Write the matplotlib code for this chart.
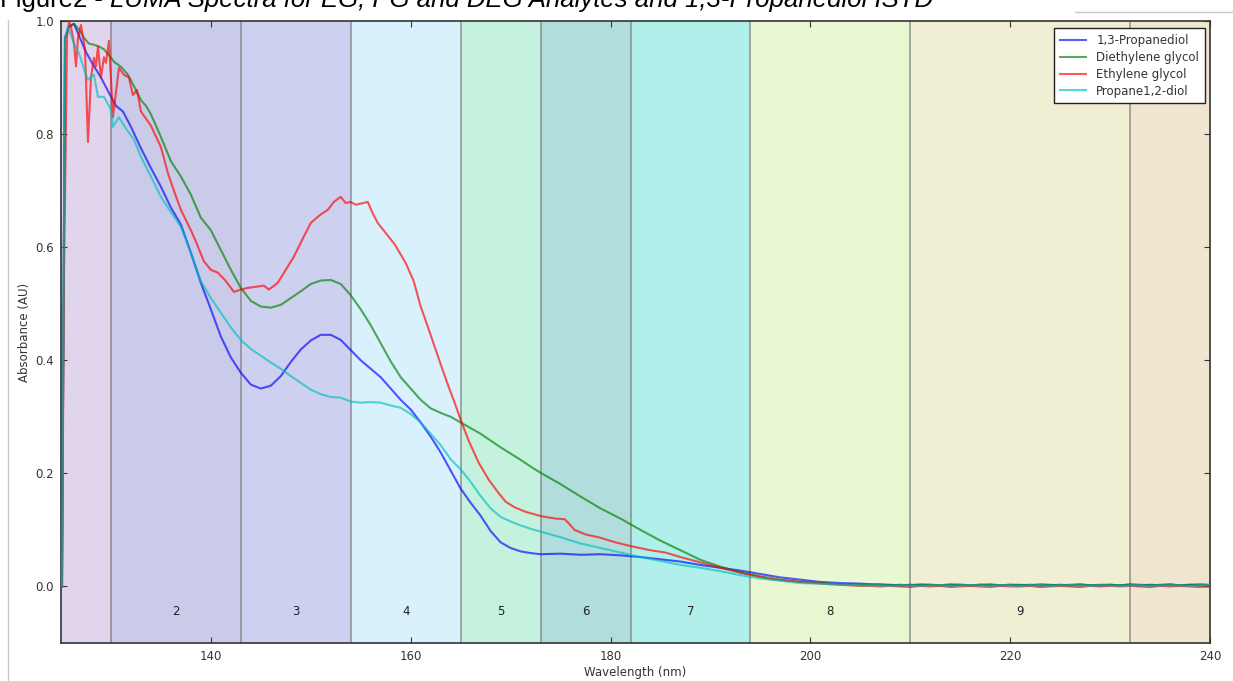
import matplotlib
matplotlib.use("Agg")
import matplotlib.pyplot as plt
from matplotlib.lines import Line2D

# ---------------- data ----------------
series_names = ["1,3-Propanediol", "Diethylene glycol", "Ethylene glycol", "Propane1,2-diol"]

blue_wl = [125.1, 125.4, 125.8, 126.3, 126.9, 127.5, 128.3, 129.0, 129.8, 130.5, 131.2, 132.0, 133.0,
           134.0, 135.0, 136.0, 137.0, 138.0, 139.0, 140.0, 141.0, 142.0, 143.0, 144.0, 145.0, 146.0,
           147.0, 148.0, 149.0, 150.0, 151.0, 152.0, 153.0, 154.0, 155.0, 156.0, 157.0, 158.0, 159.0,
           160.0, 161.0, 162.0, 163.0, 164.0, 165.0, 166.0, 167.0, 168.0, 169.0, 170.0, 171.0, 172.0,
           173.0, 175.0, 177.0, 179.0, 181.0, 183.0, 185.0, 187.0, 189.0, 191.0, 193.0, 195.0, 197.0,
           199.0, 201.0, 203.0, 205.0]
blue_abs = [0.0, 0.97, 0.99, 0.995, 0.97, 0.945, 0.92, 0.90, 0.873, 0.85, 0.84, 0.813, 0.775,
            0.74, 0.707, 0.67, 0.64, 0.59, 0.537, 0.49, 0.442, 0.405, 0.378, 0.357, 0.350, 0.355,
            0.372, 0.397, 0.419, 0.435, 0.445, 0.445, 0.436, 0.418, 0.400, 0.385, 0.370, 0.350, 0.330,
            0.313, 0.290, 0.265, 0.237, 0.205, 0.173, 0.148, 0.125, 0.098, 0.078, 0.068, 0.062, 0.059,
            0.057, 0.058, 0.056, 0.057, 0.055, 0.052, 0.048, 0.044, 0.038, 0.033, 0.028, 0.022, 0.016,
            0.012, 0.008, 0.006, 0.005]

green_wl = [125.1, 125.4, 125.8, 126.3, 126.8, 127.3, 127.8, 128.3, 128.8, 129.3, 129.8, 130.3, 131.0,
            131.7, 132.3, 133.0, 133.5, 134.0, 135.0, 136.0, 137.0, 138.0, 139.0, 140.0, 141.0, 142.0,
            143.0, 144.0, 145.0, 146.0, 147.0, 148.0, 149.0, 150.0, 151.0, 152.0, 153.0, 154.0, 155.0,
            156.0, 157.0, 158.0, 159.0, 160.0, 161.0, 162.0, 163.0, 164.0, 165.0, 166.0, 167.0, 168.0,
            169.0, 170.0, 171.0, 172.0, 173.0, 175.0, 177.0, 179.0, 181.0, 183.0, 185.0, 187.0, 189.0,
            191.0, 193.0, 195.0, 197.0, 199.0, 201.0, 203.0, 205.0]
green_abs = [0.0, 0.97, 0.99, 0.995, 0.985, 0.97, 0.96, 0.958, 0.955, 0.95, 0.94, 0.928, 0.919,
             0.905, 0.885, 0.860, 0.850, 0.835, 0.795, 0.752, 0.725, 0.693, 0.652, 0.630, 0.595, 0.560,
             0.528, 0.505, 0.495, 0.493, 0.498, 0.510, 0.522, 0.535, 0.541, 0.542, 0.535, 0.515, 0.490,
             0.462, 0.430, 0.398, 0.370, 0.350, 0.330, 0.315, 0.307, 0.300, 0.290, 0.280, 0.270, 0.258,
             0.246, 0.235, 0.224, 0.212, 0.201, 0.181, 0.159, 0.138, 0.120, 0.100, 0.081, 0.064, 0.047,
             0.035, 0.025, 0.018, 0.012, 0.008, 0.006, 0.004, 0.003]

red_wl = [125.1, 125.3, 125.6, 125.8, 126.0, 126.3, 126.5, 126.7, 127.0, 127.4, 127.7, 128.0, 128.3,
          128.5, 128.7, 129.0, 129.3, 129.5, 129.8, 130.2, 130.8, 131.3, 131.8, 132.2, 132.6, 133.0,
          134.0, 135.0, 135.7, 136.3, 137.0, 138.0, 138.5, 139.3, 140.0, 140.7, 141.5, 142.3, 143.0,
          143.7, 144.5, 145.3, 145.8, 146.7, 147.5, 148.3, 149.2, 150.0, 151.0, 151.7, 152.3, 153.0,
          153.5, 154.0, 154.5, 155.0, 155.7, 156.2, 156.7, 157.5, 158.4, 159.5, 160.3, 161.0, 161.7,
          162.4, 163.1, 163.8, 164.5, 165.1, 165.8, 166.8, 167.8, 168.8, 169.5, 170.4, 171.5, 173.1,
          174.5, 175.4, 175.8, 176.4, 177.5, 178.8, 180.5, 182.1, 184.0, 185.5, 187.0, 188.9, 191.0,
          193.8, 196.0, 199.0, 202.0, 205.0]
red_abs = [0.0, 0.55, 0.97, 1.0, 0.99, 0.96, 0.92, 0.97, 0.993, 0.95, 0.786, 0.90, 0.935,
           0.92, 0.955, 0.90, 0.936, 0.926, 0.965, 0.83, 0.917, 0.905, 0.90, 0.869, 0.878, 0.84,
           0.815, 0.777, 0.731, 0.700, 0.666, 0.630, 0.610, 0.575, 0.560, 0.555, 0.540, 0.521, 0.525,
           0.528, 0.530, 0.532, 0.525, 0.537, 0.560, 0.583, 0.615, 0.643, 0.658, 0.666, 0.680, 0.689,
           0.678, 0.680, 0.675, 0.677, 0.680, 0.660, 0.643, 0.625, 0.605, 0.572, 0.540, 0.495, 0.460,
           0.424, 0.388, 0.353, 0.320, 0.290, 0.258, 0.219, 0.189, 0.165, 0.150, 0.140, 0.132, 0.124,
           0.120, 0.119, 0.112, 0.100, 0.092, 0.087, 0.078, 0.071, 0.064, 0.060, 0.052, 0.043, 0.033,
           0.021, 0.013, 0.008, 0.004, 0.001]

cyan_wl = [125.1, 125.4, 125.7, 126.0, 126.4, 126.8, 127.3, 127.7, 128.3, 128.7, 129.3, 130.0, 130.2,
           130.8, 131.5, 132.3, 133.0, 134.0, 135.0, 136.0, 137.0, 138.0, 139.0, 140.0, 141.0, 142.0,
           143.0, 144.0, 145.0, 146.0, 147.0, 148.0, 149.0, 150.0, 151.0, 152.0, 153.0, 154.0, 155.0,
           156.0, 157.0, 158.0, 159.0, 160.0, 161.0, 162.0, 163.0, 164.0, 165.0, 166.0, 167.0, 168.0,
           169.0, 170.0, 171.0, 172.0, 173.0, 175.0, 177.0, 179.0, 181.0, 183.0, 185.0, 187.0, 189.0,
           191.0, 193.0, 195.0, 197.0, 199.0, 202.0, 205.0]
cyan_abs = [0.0, 0.97, 0.99, 0.975, 0.955, 0.943, 0.915, 0.896, 0.905, 0.866, 0.866, 0.843, 0.813,
            0.830, 0.810, 0.790, 0.760, 0.725, 0.689, 0.662, 0.636, 0.590, 0.540, 0.510, 0.484, 0.458,
            0.436, 0.420, 0.408, 0.396, 0.385, 0.372, 0.360, 0.348, 0.340, 0.335, 0.334, 0.327, 0.325,
            0.326, 0.325, 0.320, 0.316, 0.305, 0.290, 0.270, 0.250, 0.225, 0.207, 0.185, 0.160, 0.138,
            0.123, 0.115, 0.108, 0.102, 0.097, 0.087, 0.076, 0.068, 0.060, 0.052, 0.045, 0.038, 0.033,
            0.027, 0.020, 0.014, 0.010, 0.006, 0.004, 0.002]

tail_wl = [206, 207, 208, 209, 210, 211, 212, 213, 214, 215, 216, 217, 218, 219, 220, 221, 222, 223,
           224, 225, 226, 227, 228, 229, 230, 231, 232, 233, 234, 235, 236, 237, 238, 239, 240]
blue_tail = [0.004, 0.003, 0.003, 0.002, 0.003, 0.002, 0.003, 0.002, 0.002, 0.003, 0.002, 0.003,
             0.002, 0.002, 0.003, 0.002, 0.003, 0.002, 0.002, 0.003, 0.002, 0.003, 0.002, 0.002,
             0.003, 0.002, 0.003, 0.002, 0.003, 0.002, 0.003, 0.002, 0.003, 0.002, 0.002]
green_tail = [0.003, 0.004, 0.002, 0.003, 0.002, 0.004, 0.003, 0.002, 0.004, 0.003, 0.002, 0.003,
              0.004, 0.002, 0.003, 0.003, 0.002, 0.004, 0.003, 0.002, 0.003, 0.004, 0.002, 0.003,
              0.003, 0.002, 0.004, 0.003, 0.002, 0.003, 0.004, 0.002, 0.003, 0.004, 0.003]
red_tail = [0.001, 0.000, 0.001, 0.000, -0.001, 0.001, 0.000, 0.001, -0.001, 0.000, 0.001, 0.000,
            -0.001, 0.001, 0.000, 0.000, 0.001, -0.001, 0.000, 0.001, 0.000, -0.001, 0.001, 0.000,
            0.001, 0.000, 0.001, 0.000, -0.001, 0.001, 0.000, 0.001, 0.000, -0.001, 0.000]
cyan_tail = [0.002, 0.002, 0.001, 0.002, 0.002, 0.001, 0.002, 0.002, 0.001, 0.002, 0.002, 0.002,
             0.001, 0.002, 0.002, 0.001, 0.002, 0.002, 0.001, 0.002, 0.002, 0.002, 0.001, 0.002,
             0.002, 0.001, 0.002, 0.002, 0.001, 0.002, 0.002, 0.002, 0.001, 0.002, 0.002]

# spectral regions (boundaries in nm) and labels
region_edges = [125, 130, 143, 154, 165, 173, 182, 194, 210, 232, 240]
region_labels = ["", "2", "3", "4", "5", "6", "7", "8", "9", ""]
region_colors = ["#e0d5ec", "#c9cbe9", "#ced0ef", "#d9f1fc", "#c5f2df",
                 "#b1dedd", "#b1efea", "#e7f8d2", "#f0eed3", "#f0e5ce"]

x_ticks = [140, 160, 180, 200, 220, 240]
y_ticks = [0.0, 0.2, 0.4, 0.6, 0.8, 1.0]

title_a = "Figure2 - "
title_b = "LUMA Spectra for EG, PG and DEG Analytes and 1,3-Propanediol ISTD"

# ---------------- figure ----------------
W, H = 1233, 681
fig = plt.figure(figsize=(W / 100, H / 100), dpi=100)
ax = fig.add_axes([61 / W, 1 - 643 / H, (1210 - 61) / W, (643 - 21) / H])

for i in range(len(region_colors)):
    ax.axvspan(region_edges[i], region_edges[i + 1], color=region_colors[i], lw=0, zorder=0)
    if region_labels[i]:
        ax.text((region_edges[i] + region_edges[i + 1]) / 2, -0.045, region_labels[i],
                ha="center", va="center", fontsize=8.5, color="#222222", zorder=1)
for e in region_edges[1:-1]:
    ax.axvline(e, color="#7a7a7a", lw=1.1, alpha=0.8, zorder=1)

line_colors = ["#0000ff", "#007f00", "#ff0000", "#00bfbf"]
all_wl = [blue_wl + tail_wl, green_wl + tail_wl, red_wl + tail_wl, cyan_wl + tail_wl]
all_abs = [blue_abs + blue_tail, green_abs + green_tail, red_abs + red_tail, cyan_abs + cyan_tail]
for wl, ab, c, name in zip(all_wl, all_abs, line_colors, series_names):
    ax.plot(wl, ab, color=c, alpha=0.65, lw=1.5, label=name, zorder=3)

ax.set_xlim(125, 240)
ax.set_ylim(-0.1, 1.0)
ax.set_xticks(x_ticks)
ax.set_yticks(y_ticks)
ax.set_yticklabels([f"{v:.1f}" for v in y_ticks])
ax.tick_params(direction="in", top=True, right=True, length=4, width=0.8,
               labelsize=8.5, colors="#333333", pad=5)
for s in ax.spines.values():
    s.set_color("#333333")
    s.set_linewidth(1.2)
ax.set_xlabel("Wavelength (nm)", fontsize=8.5, color="#333333", labelpad=2)
ax.set_ylabel("Absorbance (AU)", fontsize=8.5, color="#333333", labelpad=3)

leg = ax.legend(loc="upper right", fontsize=8.5, frameon=True, fancybox=False,
                handlelength=2.2, borderpad=0.5, labelspacing=0.33, handletextpad=0.9,
                borderaxespad=0.0, bbox_to_anchor=(1 - 5 / 1149, 1 - 7 / 622))
leg.get_frame().set_edgecolor("#222222")
leg.get_frame().set_linewidth(1.0)
leg.get_frame().set_facecolor("white")
leg.get_frame().set_alpha(1.0)
for t in leg.get_texts():
    t.set_color("#333333")

# page decorations from the document screenshot
fig.add_artist(Line2D([8 / W, 8 / W], [0, 1 - 20 / H], color="#c8c8c8", lw=1))
fig.add_artist(Line2D([1075 / W, 1.0], [1 - 12 / H, 1 - 12 / H], color="#c8c8c8", lw=1))

# title (cut off at top of image, as in the document screenshot)
ty = 1 - 6.5 / H
t1 = fig.text(0.0, ty, title_a, fontsize=18.5, family="Liberation Sans", va="baseline", ha="left")
fig.canvas.draw()
bb = t1.get_window_extent(renderer=fig.canvas.get_renderer())
fig.text(bb.x1 / W, ty, title_b, fontsize=18.5, family="Liberation Sans", style="italic",
         va="baseline", ha="left")

fig.savefig("out.png", dpi=100)
